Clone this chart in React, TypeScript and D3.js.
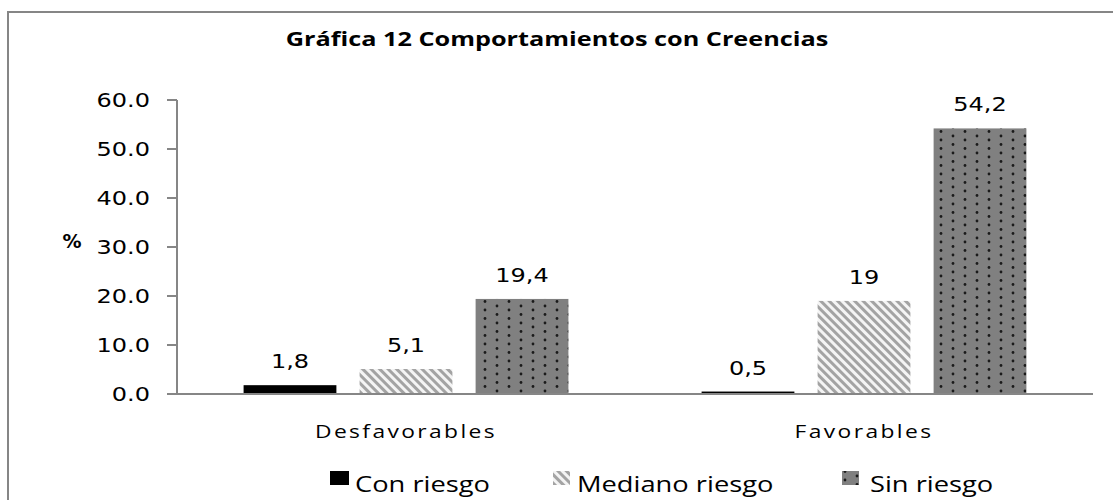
import React from 'react';
import * as d3 from 'd3';

const categories = ['Desfavorables', 'Favorables'];
const seriesNames = ['Con riesgo', 'Mediano riesgo', 'Sin riesgo'];
const conRiesgo = [1.8, 0.5];
const medianoRiesgo = [5.1, 19];
const sinRiesgo = [19.4, 54.2];
const valueLabels = [
    ['1,8', '0,5'],
    ['5,1', '19'],
    ['19,4', '54,2'],
];
const yTicks = [0, 10, 20, 30, 40, 50, 60];

const width = 1113;
const height = 500;
const axisColor = '#868686';
const numFont = 'DejaVu Sans, Verdana, sans-serif';
const textFont = 'Open Sans, sans-serif';

const fills = ['#000000', 'url(#stripes)', 'url(#dots)'];

const App = () => {
    const seriesValues = [conRiesgo, medianoRiesgo, sinRiesgo];

    const y = d3.scaleLinear().domain([0, 60]).range([394, 100]);
    const x0 = d3.scaleBand<string>().domain(categories).range([177, 1093]).padding(0);
    const x1 = d3.scaleBand<string>()
        .domain(seriesNames)
        .range([0, x0.bandwidth()])
        .paddingInner(0.2)
        .paddingOuter(0.574);

    const sx = 1.2; // text in the picture is stretched wide

    return (
        <svg width={width} height={height} style={{ position: 'absolute', left: 0, top: 0, background: '#fff' }}>
            <defs>
                <pattern id="stripes" width="6" height="6" patternUnits="userSpaceOnUse" patternTransform="rotate(-45)">
                    <rect width="6" height="6" fill="#f4f4f4" />
                    <rect width="3" height="6" fill="#a3a3a3" />
                </pattern>
                <pattern id="dots" width="24" height="17" patternUnits="userSpaceOnUse">
                    <rect width="24" height="17" fill="#808080" />
                    <circle cx="5" cy="4" r="1.4" fill="#1a1a1a" />
                    <circle cx="5" cy="12.5" r="1.4" fill="#1a1a1a" />
                    <circle cx="17" cy="0" r="1.4" fill="#1a1a1a" />
                    <circle cx="17" cy="8.5" r="1.4" fill="#1a1a1a" />
                    <circle cx="17" cy="17" r="1.4" fill="#1a1a1a" />
                </pattern>
            </defs>

            {/* outer frame, cut off at right and bottom */}
            <rect x={8} y={12} width={1200} height={600} fill="none" stroke={axisColor} strokeWidth={2} />

            <text transform="translate(557,46) scale(1.33,1)" textAnchor="middle" fontFamily={textFont}
                fontWeight="bold" fontSize={19}>
                Gráfica 12 Comportamientos con Creencias
            </text>

            {/* y axis */}
            <line x1={177} x2={177} y1={y(60)} y2={y(0)} stroke={axisColor} strokeWidth={2} />
            {yTicks.map(t => (
                <g key={t}>
                    <line x1={167} x2={177} y1={y(t)} y2={y(t)} stroke={axisColor} strokeWidth={2} />
                    <text transform={`translate(150,${y(t) + 7}) scale(${sx},1)`} textAnchor="end"
                        fontFamily={numFont} fontSize={20}>
                        {d3.format('.1f')(t)}
                    </text>
                </g>
            ))}
            <text x={72} y={248} textAnchor="middle" fontFamily={numFont} fontWeight="bold" fontSize={19}>%</text>

            {/* bars */}
            {seriesValues.map((vals, si) => (
                <g key={seriesNames[si]}>
                    {vals.map((v, ci) => {
                        const bx = x0(categories[ci])! + x1(seriesNames[si])!;
                        return (
                            <g key={ci}>
                                <rect x={bx} y={y(v)} width={x1.bandwidth()} height={y(0) - y(v)} fill={fills[si]} />
                                <text transform={`translate(${bx + x1.bandwidth() / 2},${y(v) - 17}) scale(${sx},1)`}
                                    textAnchor="middle" fontFamily={numFont} fontSize={20}>
                                    {valueLabels[si][ci]}
                                </text>
                            </g>
                        );
                    })}
                </g>
            ))}

            {/* x axis */}
            <line x1={177} x2={1093} y1={y(0)} y2={y(0)} stroke={axisColor} strokeWidth={2} />
            {categories.map(c => (
                <text key={c} transform={`translate(${x0(c)! + x0.bandwidth() / 2},438) scale(1.2,1)`}
                    textAnchor="middle" fontFamily={textFont} fontSize={19} letterSpacing={2}>
                    {c}
                </text>
            ))}

            {/* legend */}
            {seriesNames.map((s, i) => {
                const lx = [330, 553, 842][i];
                const tx = [355, 577, 870][i];
                return (
                    <g key={s}>
                        <rect x={lx} y={471} width={i === 0 ? 19 : 17} height={14} fill={fills[i]} />
                        <text transform={`translate(${tx},492) scale(1.3,1)`} fontFamily={textFont} fontSize={21}>
                            {s}
                        </text>
                    </g>
                );
            })}
        </svg>
    );
};

export default App;
